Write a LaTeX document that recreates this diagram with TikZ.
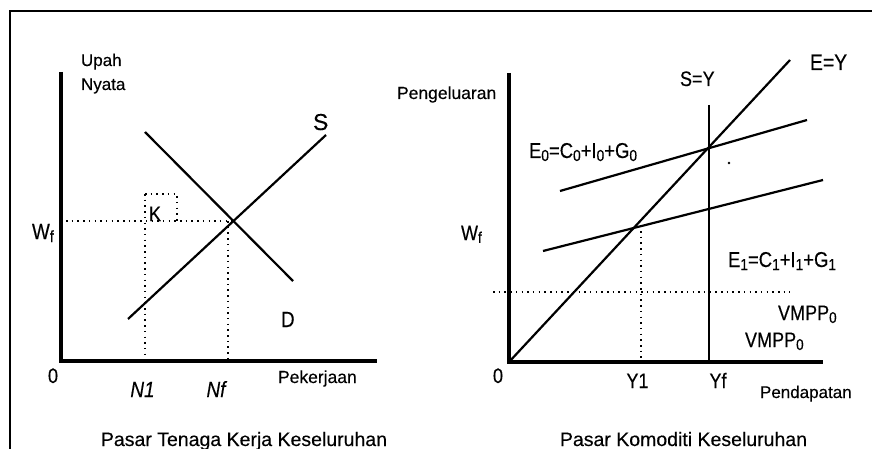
\documentclass[tikz,border=0pt]{standalone}
\usepackage{graphicx}
\usepackage{fontspec}
\setmainfont[FakeBold=0.3]{Liberation Sans}
\newfontfamily\cnd[FakeStretch=0.86,FakeBold=0.3]{Liberation Sans}
\newcommand{\fsz}[1]{\fontsize{#1}{#1}\selectfont}
\newcommand{\lo}[1]{\raisebox{-0.14em}{\scalebox{0.74}{#1}}}
\begin{document}
\begin{tikzpicture}[x=1pt,y=-1pt,
  axis/.style={line width=4.6pt},
  curve/.style={line width=2.2pt},
  guide/.style={line width=1.5pt, dash pattern=on 1.5pt off 4.2pt},
  lab/.style={inner sep=0pt, outer sep=0pt},
  frameline/.style={line width=1.4pt}]
\useasboundingbox (0,0) rectangle (872,449);
% frame
\coordinate (FT0) at (9,11); \coordinate (FT1) at (872,11);
\coordinate (FL0) at (10,11); \coordinate (FL1) at (10,449);
\draw[frameline] (FT0) -- (FT1);
\draw[frameline] (FL0) -- (FL1);

% ---------------- left panel ----------------
\coordinate (O1) at (61,361);
\coordinate (Y1top) at (61,72);
\coordinate (X1end) at (377,361);
\coordinate (Sa) at (128,319); \coordinate (Sb) at (326,135);
\coordinate (Da) at (145,132); \coordinate (Db) at (293,281);
\coordinate (Q1) at (intersection of Sa--Sb and Da--Db);
\coordinate (WLx) at (66,0);
\coordinate (N1t) at (145,194); \coordinate (N1b) at (145,361);
\coordinate (Kc) at (177,194);
\coordinate (Nfb) at (228,361);

\draw[guide] (WLx |- Q1) -- (Q1);
\draw[guide] (N1t) -- (N1b);
\draw[guide] (N1t) -- (Kc) -- (Kc |- Q1);
\draw[guide] (Nfb |- Q1) -- (Nfb);

\draw[curve] (Sa) -- (Sb);
\draw[curve] (Da) -- (Db);
\draw[axis] (Y1top) -- (O1) -- (X1end);

\node[lab, anchor=base west, font=\fsz{17}] (upah) at (81,66) {Upah};
\node[lab, anchor=base west, font=\fsz{17}] (nyata) at (81,90) {Nyata};
\node[lab, anchor=base west, font=\fsz{23}] (slab) at (313,130) {S};
\node[lab, anchor=base west, font=\cnd\fsz{22}] (dlab) at (281,327) {D};
\node[lab, anchor=base west, font=\cnd\fsz{21}] (klab) at (149,221) {K};
\node[lab, anchor=base west, font=\cnd\fsz{22}] (wl) at (32,239) {W\lo{f}};
\node[lab, anchor=base, font=\cnd\fsz{21}] (z1) at (53,383) {0};
\node[lab, anchor=base, font=\cnd\itshape\fsz{22}] (n1) at (142.5,397) {N1};
\node[lab, anchor=base, font=\cnd\itshape\fsz{22}] (nf) at (216,397) {Nf};
\node[lab, anchor=base west, font=\fsz{17.5}] (pek) at (278,383) {Pekerjaan};
\node[lab, anchor=base, font=\fsz{19.5}] (t1) at (244,446) {Pasar Tenaga Kerja Keseluruhan};

% ---------------- right panel ----------------
\coordinate (O2) at (509,362);
\coordinate (Y2top) at (509,73);
\coordinate (X2end) at (823,362);
\coordinate (EYend) at (790,60);
\coordinate (SYt) at (709,105); \coordinate (SYb) at (709,362);
\coordinate (E0a) at (560,191); \coordinate (E0b) at (807,120);
\coordinate (E1a) at (543,251); \coordinate (E1b) at (823,180);
\coordinate (Y1d) at (641,231); \coordinate (Y1b) at (641,362);
\coordinate (Ha) at (493,292); \coordinate (Hb) at (790,292);

\draw[guide] (Ha) -- (Hb);
\draw[guide] (Y1d) -- (Y1b);

\draw[curve] (O2) -- (EYend);
\draw[curve] (E0a) -- (E0b);
\draw[curve] (E1a) -- (E1b);
\draw[line width=1.7pt] (SYt) -- (SYb);
\draw[axis] (Y2top) -- (O2) -- (X2end);
\fill (729,163) circle (1.3pt);

\node[lab, anchor=base west, font=\fsz{17.5}] (peng) at (397,99) {Pengeluaran};
\node[lab, anchor=base west, font=\cnd\fsz{21}] (sy) at (680,86) {S=Y};
\node[lab, anchor=base west, font=\cnd\fsz{22.5}] (ey) at (810,70) {E=Y};
\node[lab, anchor=base west, font=\cnd\fsz{21.5}] (e0l) at (529,158) {E\lo{0}=C\lo{0}+I\lo{0}+G\lo{0}};
\node[lab, anchor=base west, font=\cnd\fsz{21.5}] (e1l) at (728,267) {E\lo{1}=C\lo{1}+I\lo{1}+G\lo{1}};
\node[lab, anchor=base west, font=\cnd\fsz{21}] (wr) at (461,240) {W\lo{f}};
\node[lab, anchor=base west, font=\cnd\fsz{21}] (vm1) at (778,320) {VMPP\lo{0}};
\node[lab, anchor=base west, font=\cnd\fsz{21}] (vm2) at (745,347) {VMPP\lo{0}};
\node[lab, anchor=base, font=\cnd\fsz{21}] (z2) at (498,383) {0};
\node[lab, anchor=base, font=\cnd\fsz{21}] (y1l) at (637.5,388) {Y1};
\node[lab, anchor=base, font=\cnd\fsz{21}] (yfl) at (718,388) {Yf};
\node[lab, anchor=base west, font=\fsz{17}] (pend) at (760,398) {Pendapatan};
\node[lab, anchor=base, font=\fsz{19.5}] (t2) at (683.5,446) {Pasar Komoditi Keseluruhan};
\end{tikzpicture}
\end{document}
